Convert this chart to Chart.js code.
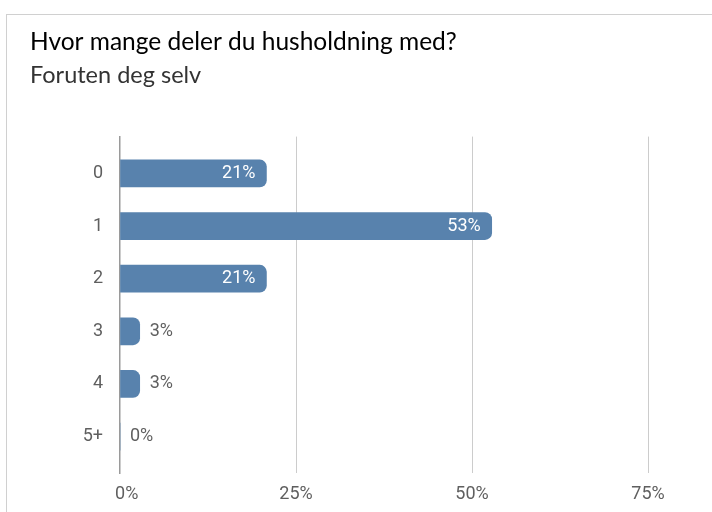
<!DOCTYPE html>
<html>
<head>
<meta charset="utf-8">
<script src="https://cdn.jsdelivr.net/npm/chart.js@4"></script>
<style>
  html, body { margin: 0; padding: 0; background: #fff; }
  #wrap { position: relative; width: 712px; height: 512px; overflow: hidden; }
  #frame { position: absolute; left: 6px; top: 14px; right: -2px; bottom: -2px;
           border-top: 1px solid #d0d0d0; border-left: 1px solid #d0d0d0; }
  canvas { position: absolute; left: 0; top: 0; }
</style>
</head>
<body>
<div id="wrap">
  <div id="frame"></div>
  <canvas id="householdChart" width="712" height="512"></canvas>
</div>
<script>
const titleText = 'Hvor mange deler du husholdning med?';
const subtitleText = 'Foruten deg selv';
const categories = ['0', '1', '2', '3', '4', '5+'];
const shares = [20.8, 52.8, 20.8, 2.8, 2.8, 0];
const xTickValues = [0, 25, 50, 75];

const barColor = '#5882ad';
const labelGray = '#5f5f5f';

// draws the percentage next to / inside each bar
const valueLabels = {
    id: 'valueLabels',
    afterDatasetsDraw(chart) {
        const ctx = chart.ctx;
        const meta = chart.getDatasetMeta(0);
        ctx.save();
        ctx.font = '18px Roboto';
        ctx.textBaseline = 'middle';
        meta.data.forEach((bar, i) => {
            const v = shares[i];
            const text = Math.round(v) + '%';
            if (v >= 10) {
                ctx.fillStyle = '#ffffff';
                ctx.textAlign = 'right';
                ctx.fillText(text, bar.x - 11, bar.y);
            } else {
                ctx.fillStyle = labelGray;
                ctx.textAlign = 'left';
                ctx.fillText(text, bar.x + 10, bar.y);
            }
        });
        ctx.restore();
    }
};

const ctx = document.getElementById('householdChart').getContext('2d');
const householdChart = new Chart(ctx, {
    type: 'bar',
    data: {
        datasets: [{
            data: categories.map((c, i) => ({ x: shares[i], y: i })),
            backgroundColor: barColor,
            borderRadius: 7,
            barThickness: 27
        }]
    },
    plugins: [valueLabels],
    options: {
        indexAxis: 'y',
        responsive: false,
        animation: false,
        layout: {
            padding: { left: 30, top: 27, right: 64, bottom: -3 }
        },
        scales: {
            y: {
                type: 'linear',
                reverse: true,
                offset: false,
                min: -0.7,
                max: 5.7,
                afterBuildTicks: scale => {
                    scale.ticks = categories.map((c, i) => ({ value: i }));
                },
                afterFit: scale => {
                    scale.width = 90;
                },
                grid: { display: false, drawTicks: false },
                border: { display: true, color: '#9a9a9a', width: 1.5 },
                ticks: {
                    padding: 17,
                    color: labelGray,
                    font: { family: 'Roboto', size: 18 },
                    callback: v => categories[v]
                }
            },
            x: {
                type: 'linear',
                min: 0,
                max: 75,
                afterBuildTicks: scale => {
                    scale.ticks = xTickValues.map(v => ({ value: v }));
                },
                grid: {
                    color: ctx => ctx.tick && ctx.tick.value === 0 ? 'rgba(0,0,0,0)' : '#cccccc',
                    drawTicks: false
                },
                border: { display: false },
                ticks: {
                    padding: 10,
                    color: labelGray,
                    font: { family: 'Roboto', size: 18 },
                    callback: v => (v === 0 ? '   0%' : v + '%')
                }
            }
        },
        plugins: {
            legend: { display: false },
            tooltip: { enabled: false },
            title: {
                display: true,
                text: titleText,
                align: 'start',
                color: '#000000',
                font: { family: 'Lato', size: 24.5, weight: 'normal', lineHeight: 1.2 },
                padding: { top: 0, bottom: 0 }
            },
            subtitle: {
                display: true,
                text: subtitleText,
                align: 'start',
                color: '#333333',
                font: { family: 'Lato', size: 23.5, weight: 'normal', lineHeight: 1.2 },
                padding: { top: 5, bottom: 47 }
            }
        }
    }
});
</script>
</body>
</html>
